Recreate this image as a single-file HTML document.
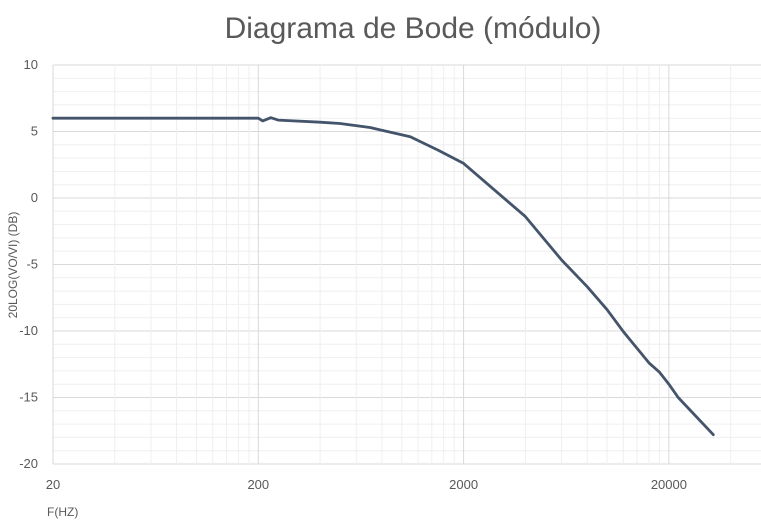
<!DOCTYPE html>
<html><head><meta charset="utf-8"><style>
html,body{margin:0;padding:0;background:#fff;}
svg{display:block;font-family:"Liberation Sans",sans-serif;}
</style></head><body>
<svg id="chart" width="761" height="524">
<text x="413" y="38" text-anchor="middle" font-size="30" fill="#595959">Diagrama de Bode (módulo)</text>
<g id="grid"></g><g id="axes"></g><g id="series"></g>
<text transform="translate(17,265) rotate(-90)" text-anchor="middle" font-size="12" fill="#595959">20LOG(VO/VI) (DB)</text>
<text x="47" y="516" font-size="12" fill="#595959">F(HZ)</text>
</svg>
<script>
const freqs=[20,50,100,150,200,210,230,250,400,500,700,1100,1500,2000,4000,6000,8000,10000,12000,16000,18000,20000,22200,26300,32900];
const gainDb=[6,6,6,6,6,5.8,6.04,5.86,5.7,5.6,5.3,4.6,3.6,2.6,-1.4,-4.66,-6.67,-8.4,-10.05,-12.4,-13.1,-14.0,-15.0,-16.2,-17.8];
const xTicks=[20,200,2000,20000];
const yTicks=[10,5,0,-5,-10,-15,-20];
const L=53,R=761,T=65,B=464,DEC=205.3;
const yMin=-20,yMax=10;
function xs(f){return L+Math.log10(f/20)*DEC;}
function ys(v){return B-(v-yMin)/(yMax-yMin)*(B-T);}
const NS="http://www.w3.org/2000/svg";
function mk(t,a,p){const e=document.createElementNS(NS,t);for(const k in a)e.setAttribute(k,a[k]);p.appendChild(e);return e;}
const grid=document.getElementById('grid'),axes=document.getElementById('axes'),series=document.getElementById('series');
// minor horizontal
for(let v=yMin;v<=yMax;v++){const y=ys(v);const l=mk('line',{x1:L,x2:R,y1:y,y2:y,stroke:v%5===0?'#d9d9d9':'#efefef','stroke-width':1},grid);

}
// vertical
for(let b=20;b<=200000;b*=10){for(let k=1;k<=9;k++){const f=b*k;const x=xs(f);if(x>R)break;
const l=mk('line',{x1:x,x2:x,y1:T,y2:B,stroke:k===1?'#d9d9d9':'#efefef','stroke-width':1},grid);

}}
yTicks.forEach(v=>{const t=mk('text',{x:38,y:ys(v)+4,'text-anchor':'end','font-size':13,fill:'#595959'},axes);t.textContent=v;

});
xTicks.forEach(f=>{const t=mk('text',{x:xs(f),y:489,'text-anchor':'middle','font-size':13,fill:'#595959'},axes);t.textContent=f;

});
const pts=freqs.map((f,i)=>xs(f).toFixed(1)+','+ys(gainDb[i]).toFixed(1)).join(' ');
const pl=mk('polyline',{points:pts,fill:'none',stroke:'#44546a','stroke-width':2.8,'stroke-linejoin':'round','stroke-linecap':'round'},series);


</script>
</body></html>
